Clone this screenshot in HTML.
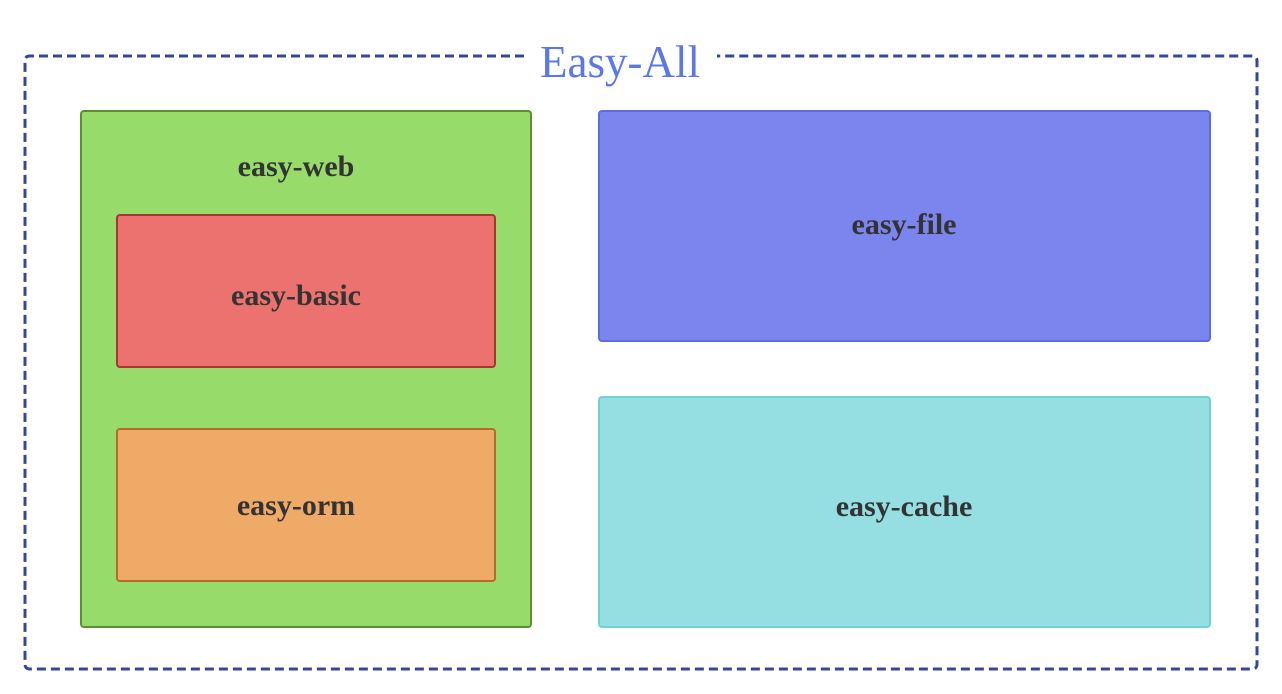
<!DOCTYPE html>
<html><head><meta charset="utf-8"><style>html,body{margin:0;padding:0;background:#fff;}svg{display:block}</style></head>
<body>
<svg width="1282" height="694" xmlns="http://www.w3.org/2000/svg">
<path d="M524 56 H30 Q25 56 25 61 V664 Q25 669 30 669 H1252 Q1257 669 1257 664 V61 Q1257 56 1252 56 H717" fill="none" stroke="#34489a" stroke-width="3" stroke-dasharray="9,5"/>
<text x="620" y="77" text-anchor="middle" font-family="Liberation Serif, serif" font-size="45" fill="#5a78e6">Easy-All</text>
<rect x="81" y="111" width="450" height="516" rx="3" fill="#97db6a" stroke="#5a9030" stroke-width="2"/>
<text x="296" y="176" text-anchor="middle" font-family="Liberation Serif, serif" font-weight="bold" font-size="30" fill="#333">easy-web</text>
<rect x="117" y="215" width="378" height="152" rx="3" fill="#ec7270" stroke="#a83434" stroke-width="2"/>
<text x="296" y="305" text-anchor="middle" font-family="Liberation Serif, serif" font-weight="bold" font-size="30" fill="#333">easy-basic</text>
<rect x="117" y="429" width="378" height="152" rx="3" fill="#f0aa68" stroke="#b56a30" stroke-width="2"/>
<text x="296" y="515" text-anchor="middle" font-family="Liberation Serif, serif" font-weight="bold" font-size="30" fill="#333">easy-orm</text>
<rect x="599" y="111" width="611" height="230" rx="3" fill="#7a85ee" stroke="#5b6ee0" stroke-width="2"/>
<text x="904" y="234" text-anchor="middle" font-family="Liberation Serif, serif" font-weight="bold" font-size="30" fill="#333">easy-file</text>
<rect x="599" y="397" width="611" height="230" rx="3" fill="#95dfe2" stroke="#6fd3d3" stroke-width="2"/>
<text x="904" y="516" text-anchor="middle" font-family="Liberation Serif, serif" font-weight="bold" font-size="30" fill="#333">easy-cache</text>
</svg>
</body></html>
